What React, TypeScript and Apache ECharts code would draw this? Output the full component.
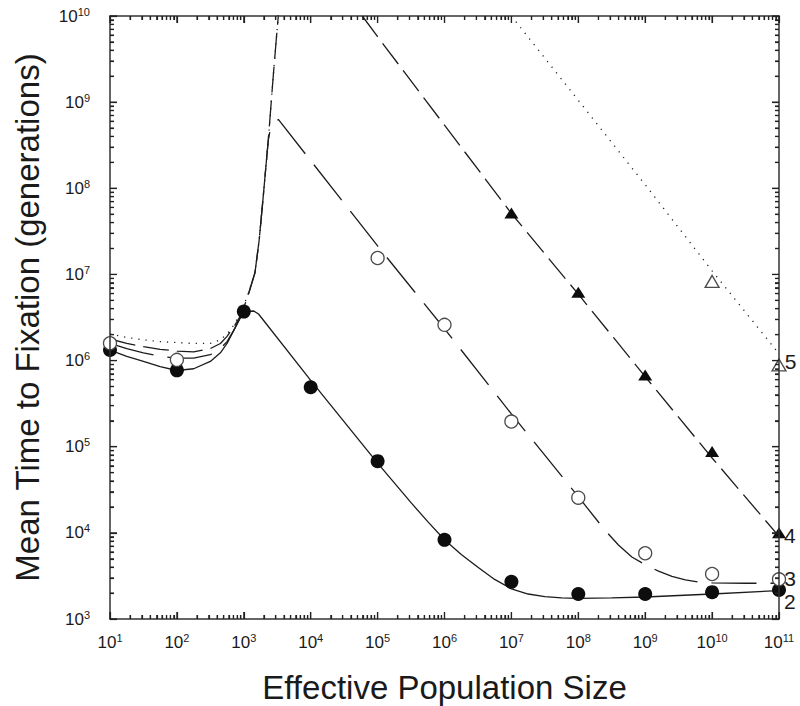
import React, { useEffect, useRef } from "react";
import * as echarts from "echarts";

const FONT = "'Liberation Sans', Arial, Helvetica, sans-serif";
const INK = "#1a1a1a";

// axis ranges (powers of ten) and tick layout
const xRange = [1e1, 1e11];
const yRange = [1e3, 1e10];
const xDecades = [1, 2, 3, 4, 5, 6, 7, 8, 9, 10, 11];
const yDecades = [3, 4, 5, 6, 7, 8, 9, 10];
const minorMultipliers = [2, 3, 4, 5, 6, 7, 8, 9];

// theory curves [effective population size, mean time to fixation]
const curve2: [number, number][] = [
  [10, 1.32e6], [17.8, 1.12e6], [31.6, 9.8e5], [56.2, 8.5e5], [100, 7.67e5],
  [178, 8.04e5], [316, 9.77e5], [447, 1.23e6], [562, 1.58e6], [708, 2.24e6],
  [891, 3.16e6], [1122, 3.72e6], [1413, 3.76e6], [1660, 3.47e6], [1e4, 5.89e5],
  [1e5, 6.46e4], [3.16e5, 2.24e4], [5.62e5, 1.35e4], [1e6, 8.32e3], [1.78e6, 5.62e3],
  [3.16e6, 3.98e3], [5.62e6, 2.88e3], [1e7, 2.24e3], [1.78e7, 1.95e3], [3.16e7, 1.82e3],
  [5.62e7, 1.76e3], [1e8, 1.74e3], [3.16e8, 1.76e3], [1e9, 1.8e3], [1e10, 1.95e3], [1e11, 2.14e3],
];
const curve3: [number, number][] = [
  [10, 1.58e6], [17.8, 1.38e6], [31.6, 1.23e6], [56.2, 1.12e6], [100, 1.07e6],
  [178, 1.07e6], [316, 1.17e6], [447, 1.38e6], [562, 1.66e6], [708, 2.24e6],
  [891, 3.16e6], [1122, 5.25e6], [1469, 1.05e7], [1698, 2.51e7], [1950, 7.94e7],
  [2138, 1.78e8], [2323, 3.63e8], [2455, 4.57e8], [3281, 6.31e8], [1e5, 2.14e7],
  [1e6, 2.34e6], [1e7, 2.4e5], [1e8, 2.63e4], [2.51e8, 1.07e4], [3.98e8, 7.24e3],
  [6.31e8, 5.25e3], [1e9, 4.27e3], [1.58e9, 3.59e3], [2.51e9, 3.13e3], [3.98e9, 2.85e3],
  [6.31e9, 2.69e3], [1e10, 2.63e3], [3.16e10, 2.6e3], [1e11, 2.6e3],
];
const curve4Left: [number, number][] = [
  [10, 1.78e6], [17.8, 1.58e6], [31.6, 1.45e6], [56.2, 1.35e6], [100, 1.29e6],
  [178, 1.26e6], [316, 1.38e6], [447, 1.58e6], [562, 1.91e6], [708, 2.45e6],
  [891, 3.31e6], [1122, 5.25e6], [1469, 1.05e7], [1698, 2.51e7], [1950, 7.94e7],
  [2138, 1.78e8], [2323, 3.63e8], [2512, 7.94e8], [2754, 2.0e9], [3090, 5.89e9],
  [3281, 1e10], [3548, 2e10],
];
const curve4Right: [number, number][] = [
  [5.9e4, 1e10], [1e5, 5.75e9], [1e6, 5.4e8], [1e7, 5.1e7], [1e8, 5.9e6],
  [1e9, 6.5e5], [1e10, 7.4e4], [1e11, 9.1e3],
];
const curve5Left: [number, number][] = [
  [10, 2.04e6], [17.8, 1.86e6], [31.6, 1.74e6], [56.2, 1.66e6], [100, 1.62e6],
  [178, 1.58e6], [316, 1.58e6], [447, 1.74e6], [562, 2.04e6], [708, 2.57e6],
  [891, 3.55e6], [1122, 5.5e6], [1469, 1.05e7], [1698, 2.51e7], [1950, 7.94e7],
  [2138, 1.78e8], [2323, 3.63e8], [2512, 7.94e8], [2754, 2.0e9], [3090, 5.89e9],
  [3281, 1e10], [3548, 2e10],
];
const curve5Right: [number, number][] = [
  [1e7, 1e10], [1e8, 1.05e9], [1e9, 1.1e8], [1e10, 1.1e7], [1e11, 1.2e6],
];

// simulation points
const points2: [number, number][] = [
  [10, 1.33e6], [100, 7.7e5], [1000, 3.7e6], [1e4, 4.9e5], [1e5, 6.8e4],
  [1e6, 8.3e3], [1e7, 2.7e3], [1e8, 1.95e3], [1e9, 1.95e3], [1e10, 2.05e3], [1e11, 2.17e3],
];
const points3: [number, number][] = [
  [10, 1.59e6], [100, 1.02e6], [1e5, 1.55e7], [1e6, 2.6e6], [1e7, 1.96e5],
  [1e8, 2.56e4], [1e9, 5.8e3], [1e10, 3.33e3], [1e11, 2.89e3],
];
const points4: [number, number][] = [
  [1e7, 5.15e7], [1e8, 6.2e6], [1e9, 6.8e5], [1e10, 8.8e4], [1e11, 1.0e4],
];
const points5: [number, number][] = [[1e10, 8.3e6], [1e11, 8.9e5]];

const curveNames = ["2", "3", "4", "5"];

// tick values: [value, isMajor]
function tickList(decades: number[]): [number, number][] {
  const out: [number, number][] = [];
  decades.forEach((e, i) => {
    const base = Math.pow(10, e);
    out.push([base, 1]);
    if (i < decades.length - 1) minorMultipliers.forEach((m) => out.push([m * base, 0]));
  });
  return out;
}

export default function App() {
  const ref = useRef<HTMLDivElement>(null);
  useEffect(() => {
    const chart = echarts.init(ref.current!, null, { renderer: "svg" });
    const rich = {
      b: { fontSize: 17, fontFamily: FONT, color: INK, lineHeight: 20 },
      s: { fontSize: 11, fontFamily: FONT, color: INK, lineHeight: 13, verticalAlign: "top" },
    };
    const powLabel = (v: number) => `{b|10}{s|${Math.round(Math.log10(v))}}`;
    const tickColor = "#222";

    const logAxis = (range: number[], pos: string, labels: any, name?: any) => ({
      type: "log", logBase: 10, min: range[0], max: range[1], interval: 1, position: pos, z: 10,
      axisLine: { show: true, onZero: false, lineStyle: { color: "#333", width: 1.5 } },
      axisTick: { show: true, inside: true, length: 7, lineStyle: { color: tickColor, width: 1.2 } },
      minorTick: { show: true, splitNumber: 9, length: 4, lineStyle: { color: tickColor, width: 1.2 } },
      axisLabel: labels ? { show: true, formatter: powLabel, rich, ...labels } : { show: false },
      splitLine: { show: false },
      ...(name || {}),
    });
    const nameStyle = { fontSize: 33, fontFamily: FONT, color: INK };

    const line = (data: [number, number][], type: any) => ({
      type: "line", xAxisIndex: 0, yAxisIndex: 0, data, symbol: "none", showSymbol: false,
      smooth: false, clip: true, silent: true, z: 2,
      lineStyle: { color: "#1c1c1c", width: 1.3, type },
    });
    const withEndLabel = (pts: [number, number][], text: string, dy: number) =>
      pts.map((p, i) =>
        i === pts.length - 1
          ? { value: p, label: { show: true, position: "right", distance: 0, offset: [-2, dy], formatter: text,
              fontSize: 21, fontFamily: FONT, color: INK } }
          : p
      );
    const scatter = (data: any[], symbol: string, size: any, filled: boolean) => ({
      type: "scatter", xAxisIndex: 0, yAxisIndex: 0, data, symbol, symbolSize: size, clip: false, silent: true, z: 5,
      itemStyle: filled
        ? { color: "#0d0d0d", opacity: 1 }
        : { color: "#fff", borderColor: "#4a4a4a", borderWidth: 1.3, opacity: 1 },
    });

    const option: any = {
      animation: false,
      backgroundColor: "#fff",
      grid: { left: 110, right: 21, top: 16, bottom: 87, containLabel: false, outerBoundsMode: "none" },
      xAxis: [
        logAxis(xRange, "bottom", { margin: 13 }, {
          name: "Effective Population Size", nameLocation: "middle", nameGap: 52, nameTextStyle: nameStyle,
        }),
        logAxis(xRange, "top", null),
      ],
      yAxis: [
        logAxis(yRange, "left", { margin: 20 }, {
          name: "Mean Time to Fixation (generations)", nameLocation: "middle", nameGap: 66, nameTextStyle: nameStyle,
        }),
        logAxis(yRange, "right", null),
      ],
      series: [
        line(curve2, "solid"),
        line(curve3, [45, 14]),
        line(curve4Left, [26, 8]),
        line(curve4Right, [26, 8]),
        line(curve5Left, [1.2, 6]),
        line(curve5Right, [1.2, 6]),
        scatter(withEndLabel(points2, curveNames[0], 11), "circle", 14, true),
        scatter(withEndLabel(points3, curveNames[1], -1), "circle", 13, false),
        scatter(withEndLabel(points4, curveNames[2], 3), "triangle", [14, 11], true),
        scatter(withEndLabel(points5, curveNames[3], -3), "triangle", [14, 12], false),
      ],
    };
    chart.setOption(option);

    // inward ticks on all four sides, positioned through the chart's own log scales
    const toPx = (v: [number, number]) => chart.convertToPixel({ gridIndex: 0 }, v) as number[];
    const [left, top] = toPx([xRange[0], yRange[1]]);
    const [right, bottom] = toPx([xRange[1], yRange[0]]);
    const elements: any[] = [];
    const seg = (x1: number, y1: number, x2: number, y2: number) =>
      elements.push({ type: "line", silent: true, z: 100, shape: { x1, y1, x2, y2 },
        style: { stroke: tickColor, lineWidth: 1.2 } });
    tickList(xDecades).forEach(([v, major]) => {
      const x = toPx([v, yRange[0]])[0];
      const len = major ? 7 : 4;
      seg(x, bottom, x, bottom - len);
      seg(x, top, x, top + len);
    });
    tickList(yDecades).forEach(([v, major]) => {
      const y = toPx([xRange[0], v])[1];
      const len = major ? 7 : 4;
      seg(left, y, left + len, y);
      seg(right, y, right - len, y);
    });
    chart.setOption({ graphic: { elements } });

    return () => chart.dispose();
  }, []);
  return (
    <div
      ref={ref}
      style={{ position: "fixed", left: 0, top: 0, width: 800, height: 706, background: "#fff" }}
    />
  );
}
